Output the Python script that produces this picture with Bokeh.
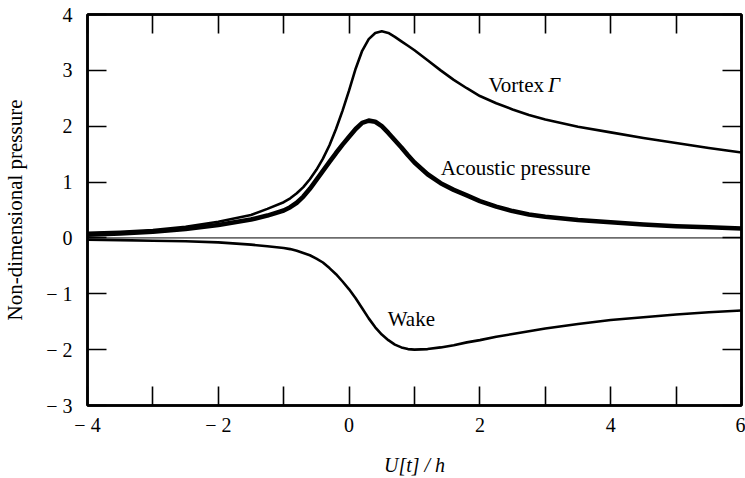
from bokeh.plotting import figure
from bokeh.models import LinearAxis, FixedTicker, Span, Range1d
from bokeh.core.properties import value
from bokeh.embed import file_html
from bokeh.resources import INLINE

# ---- data ----
x_vals = [-4, -3.5, -3, -2.5, -2, -1.5, -1.25,
          -1.0, -0.9, -0.8, -0.7, -0.6, -0.5, -0.4, -0.3, -0.2, -0.1, 0,
          0.1, 0.2, 0.3, 0.4, 0.5, 0.6, 0.7, 0.8, 0.9, 1.0,
          1.2, 1.4, 1.6, 1.8, 2.0, 2.25,
          2.5, 2.75, 3, 3.5, 4, 4.5, 5, 5.5, 6]
vortex = [0.09, 0.11, 0.14, 0.20, 0.29, 0.41, 0.52,
          0.64, 0.71, 0.80, 0.91, 1.05, 1.22, 1.42, 1.66, 1.95, 2.28, 2.64,
          3.03, 3.35, 3.56, 3.67, 3.70, 3.67, 3.60, 3.52, 3.44, 3.36,
          3.18, 3.00, 2.83, 2.68, 2.54, 2.41,
          2.30, 2.20, 2.12, 1.99, 1.89, 1.79, 1.70, 1.61, 1.53]
acoustic = [0.06, 0.08, 0.11, 0.16, 0.23, 0.33, 0.40,
            0.49, 0.55, 0.63, 0.74, 0.88, 1.04, 1.20, 1.36, 1.52, 1.67, 1.81,
            1.95, 2.06, 2.10, 2.08, 2.00, 1.88, 1.75, 1.62, 1.48, 1.35,
            1.14, 0.98, 0.86, 0.76, 0.66, 0.56,
            0.48, 0.42, 0.38, 0.32, 0.28, 0.24, 0.21, 0.19, 0.17]
wake = [-0.03, -0.04, -0.05, -0.06, -0.08, -0.12, -0.15,
        -0.18, -0.20, -0.23, -0.27, -0.31, -0.37, -0.44, -0.54, -0.65, -0.78, -0.92,
        -1.08, -1.26, -1.44, -1.60, -1.73, -1.83, -1.91, -1.96, -1.99, -2.00,
        -1.99, -1.96, -1.92, -1.87, -1.83, -1.77,
        -1.72, -1.67, -1.62, -1.54, -1.47, -1.42, -1.37, -1.33, -1.30]

x_ticks = [-4, -2, 0, 2, 4, 6]
x_tick_labels = ["\u2212 4", "\u2212 2", "0", "2", "4", "6"]
x_minor = [-3, -1, 1, 3, 5]
x_all = [-4, -3, -2, -1, 0, 1, 2, 3, 4, 5, 6]
y_ticks = [-3, -2, -1, 0, 1, 2, 3, 4]
y_tick_labels = ["\u2212 3", "\u2212 2", "\u2212 1", "0", "1", "2", "3", "4"]

FONT = "Liberation Serif"

p = figure(width=745, height=478, x_range=Range1d(-4, 6), y_range=Range1d(-3, 4),
           output_backend="svg", toolbar_location=None,
           min_border_left=87, min_border_right=4, min_border_top=14,
           min_border_bottom=72)
p.grid.visible = False
p.outline_line_color = "black"
p.outline_line_width = 2.5
p.background_fill_color = "white"
p.border_fill_color = "white"


def style_axis(ax, ticks, minor, labels=None):
    ax.ticker = FixedTicker(ticks=ticks, minor_ticks=minor)
    ax.major_tick_in = 19
    ax.major_tick_out = 0
    ax.minor_tick_in = 19
    ax.minor_tick_out = 0
    ax.major_tick_line_width = 1.6
    ax.minor_tick_line_width = 1.6
    ax.major_tick_line_color = "black"
    ax.minor_tick_line_color = "black"
    ax.axis_line_width = 2.5
    ax.axis_line_color = "black"
    if labels is not None:
        ax.major_label_overrides = {t: l for t, l in zip(ticks, labels)}
        ax.major_label_text_font = FONT
        ax.major_label_text_font_size = "20px"
        ax.major_label_text_color = "black"
    else:
        ax.major_label_standoff = 0


style_axis(p.xaxis[0], x_ticks, x_minor, x_tick_labels)
p.xaxis[0].major_label_standoff = 8
p.xaxis[0].axis_label = "U[t] / h"
p.xaxis[0].axis_label_text_font = FONT
p.xaxis[0].axis_label_text_font_style = "italic"
p.xaxis[0].axis_label_text_font_size = "20px"
p.xaxis[0].axis_label_text_color = "black"
p.xaxis[0].axis_label_standoff = 15

style_axis(p.yaxis[0], y_ticks, [], y_tick_labels)
p.yaxis[0].major_label_standoff = 15
p.yaxis[0].axis_label = "Non-dimensional pressure"
p.yaxis[0].axis_label_text_font = FONT
p.yaxis[0].axis_label_text_font_style = "normal"
p.yaxis[0].axis_label_text_font_size = "21px"
p.yaxis[0].axis_label_text_color = "black"
p.yaxis[0].axis_label_standoff = 16

top = LinearAxis()
style_axis(top, [], x_all)
p.add_layout(top, "above")
right = LinearAxis()
style_axis(right, [], y_ticks)
p.add_layout(right, "right")

p.add_layout(Span(location=0, dimension="width", line_color="black", line_width=1))

p.line(x_vals, vortex, line_color="black", line_width=2.6, line_join="round")
p.line(x_vals, acoustic, line_color="black", line_width=4.6, line_join="round")
p.line(x_vals, wake, line_color="black", line_width=2.6, line_join="round")

p.text(x=[2.13], y=[2.73], text=["Vortex"], text_font=value(FONT),
       text_font_size="21px", text_baseline="middle", text_align="left",
       text_color="black")
p.text(x=[3.04], y=[2.73], text=["\u0393"], text_font=value(FONT),
       text_font_size="21px", text_font_style="italic", text_baseline="middle",
       text_align="left", text_color="black")
p.text(x=[1.40], y=[1.25], text=["Acoustic pressure"], text_font=value(FONT),
       text_font_size="21px", text_baseline="middle", text_align="left",
       text_color="black")
p.text(x=[0.59], y=[-1.46], text=["Wake"], text_font=value(FONT),
       text_font_size="21px", text_baseline="middle", text_align="left",
       text_color="black")

open("out.html", "w").write(file_html(p, INLINE))
